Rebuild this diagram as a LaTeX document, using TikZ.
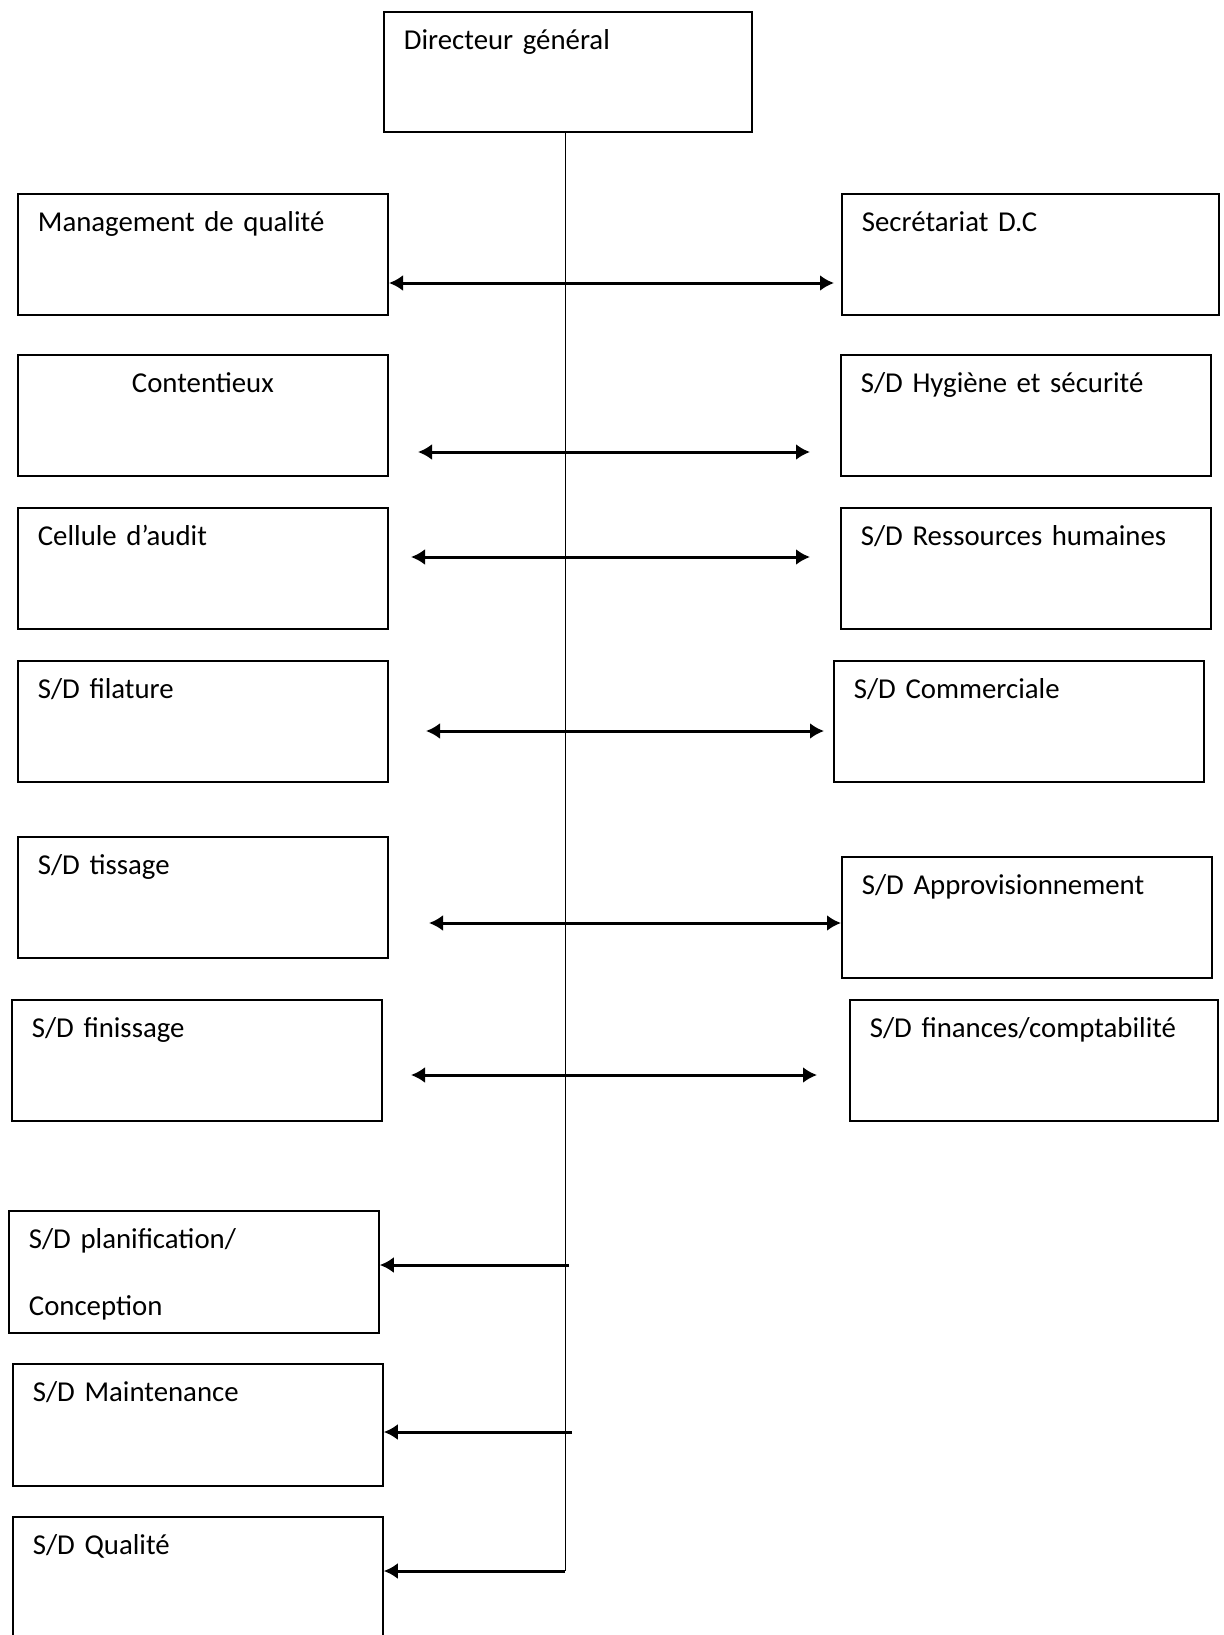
\documentclass[tikz,border=0pt]{standalone}
\usepackage{fontspec}
\setmainfont{Carlito}
\usetikzlibrary{arrows.meta}

\begin{document}
\begin{tikzpicture}[x=0.5pt, y=-0.5pt, >={Latex[length=7pt, width=8pt]},
                    every node/.style={font=\fontsize{14.4}{18}\selectfont},
                    unite/.style={draw, line width=0.9pt, anchor=north west,
                                  inner xsep=10pt, inner ysep=0pt, text width=165pt,
                                  align=left, text height=19pt, text depth=41.5pt},
                    lien/.style={line width=1.5pt}]

  \clip (0,0) rectangle (1224,1635);

  %% direction generale
  \node[unite, text width=164pt, text depth=41pt] (dg) at (383,11) {Directeur général};

  %% colonne de gauche
  \node[unite] (mq)    at (17,193)  {Management de qualité};
  \node[unite, align=center] (cont) at (17,354) {Contentieux};
  \node[unite] (audit) at (17,507)  {Cellule d’audit};
  \node[unite] (fil)   at (17,660)  {S/D filature};
  \node[unite] (tis)   at (17,836)  {S/D tissage};
  \node[unite] (fin)   at (11,999)  {S/D finissage};
  \node[unite, text depth=42pt] (plan) at (8,1210)
    {S/D planification/\\[15.5pt]Conception};
  \node[unite, text depth=42pt] (maint) at (12,1363) {S/D Maintenance};
  \node[unite, text depth=60pt] (qual)  at (12,1516) {S/D Qualité};

  %% colonne de droite
  \node[unite, text width=168.5pt] (sec) at (841,193) {Secrétariat D.C};
  \node[unite] (hyg)   at (840,354) {S/D Hygiène et sécurité};
  \node[unite] (rh)    at (840,507) {S/D Ressources humaines};
  \node[unite] (com)   at (833,660) {S/D Commerciale};
  \node[unite] (appro) at (841,856) {S/D Approvisionnement};
  \node[unite, text width=164pt] (compta) at (849,999) {S/D finances/comptabilité};

  %% axe vertical depuis la direction
  \coordinate (bas) at (565,1571);
  \draw[line width=0.5pt] (dg.south -| bas) -- (bas);

  %% liaisons dans les deux sens
  \foreach \i/\g/\d/\y in {1/389/834/283, 2/418/810/452, 3/411/810/557,
                           4/426/824/731, 5/429/841/923, 6/411/817/1075} {
    \coordinate (g\i) at (\g,\y);
    \coordinate (d\i) at (\d,\y);
    \draw[lien, <->] (g\i) -- (d\i);
  }

  %% liaisons vers le bas de la colonne de gauche
  \coordinate (s7) at (569,1265);
  \coordinate (s8) at (572,1432);
  \draw[lien, ->] (s7) -- (s7 -| plan.east);
  \draw[lien, ->] (s8) -- (s8 -| maint.east);
  \draw[lien, ->] (bas) -- (bas -| qual.east);

\end{tikzpicture}
\end{document}
